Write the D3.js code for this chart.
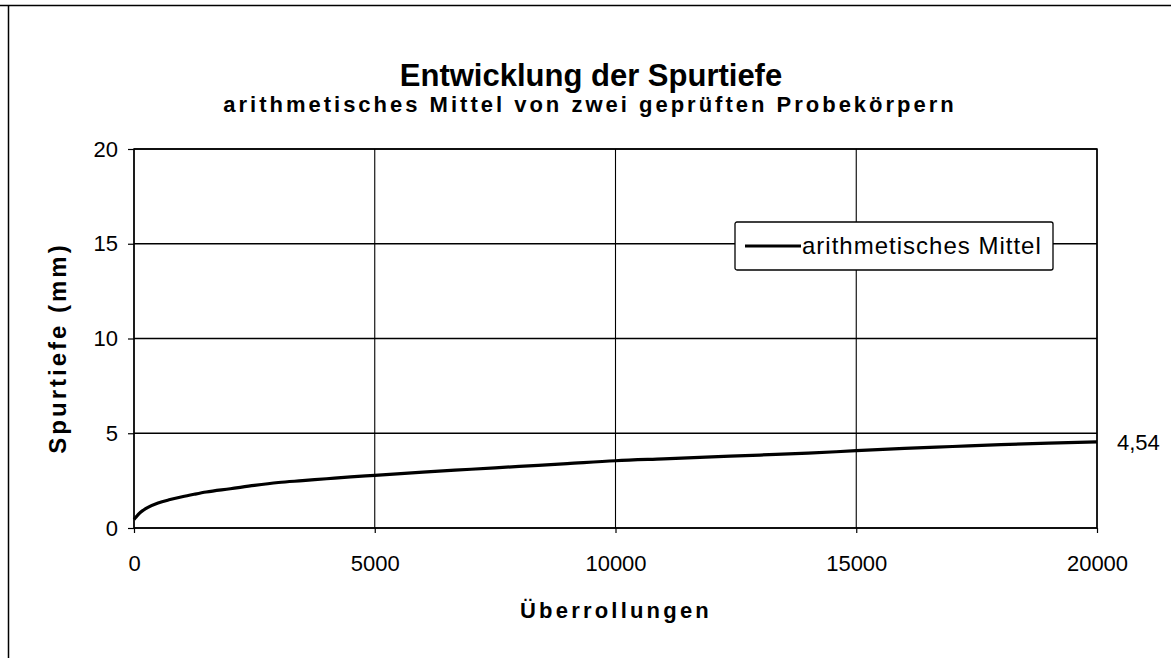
<!DOCTYPE html>
<html>
<head>
<meta charset="utf-8">
<script src="https://cdn.jsdelivr.net/npm/d3@7"></script>
<style>
  body { margin: 0; background: #fff; }
  svg text { font-family: "Liberation Sans", Arial, sans-serif; fill: #000; }
</style>
</head>
<body>
<div id="wrapper"></div>
<script>
// data
const overrolls = [0, 50, 100, 200, 300, 500, 750, 1000, 1250, 1500, 2000, 2500, 3000, 3500, 4000, 4500, 5000,
  6000, 7000, 8000, 9000, 10000, 11000, 12000, 13000, 14000, 15000, 16000, 17000, 18000, 19000, 20000]
const rutDepth = [0.45, 0.6, 0.75, 0.95, 1.1, 1.32, 1.5, 1.65, 1.78, 1.9, 2.07, 2.25, 2.4, 2.5, 2.6, 2.7, 2.78,
  2.95, 3.1, 3.25, 3.4, 3.55, 3.65, 3.75, 3.85, 3.95, 4.08, 4.2, 4.3, 4.4, 4.48, 4.54]
const xTicks = [0, 5000, 10000, 15000, 20000]
const yTicks = [0, 5, 10, 15, 20]
const seriesLabel = "arithmetisches Mittel"
const endLabel = "4,54"

function draw() {
  const dimensions = {
    width: 1171,
    height: 658,
    margin: { top: 149, right: 74, bottom: 130, left: 134 },
  }
  dimensions.boundedWidth = dimensions.width - dimensions.margin.left - dimensions.margin.right
  dimensions.boundedHeight = dimensions.height - dimensions.margin.top - dimensions.margin.bottom

  const svg = d3.select("#wrapper").append("svg")
    .attr("width", dimensions.width)
    .attr("height", dimensions.height)

  // outer frame (top and left edge of the scanned page)
  svg.append("line").attr("x1", 0).attr("x2", dimensions.width).attr("y1", 5.5).attr("y2", 5.5)
    .attr("stroke", "#000").attr("stroke-width", 1.5)
  svg.append("line").attr("x1", 8.5).attr("x2", 8.5).attr("y1", 5).attr("y2", dimensions.height)
    .attr("stroke", "#000").attr("stroke-width", 1.5)

  // titles
  svg.append("text")
    .attr("x", 591).attr("y", 86)
    .attr("text-anchor", "middle")
    .style("font-size", "31px").style("font-weight", "bold")
    .text("Entwicklung der Spurtiefe")
  svg.append("text")
    .attr("x", 590).attr("y", 112)
    .attr("text-anchor", "middle")
    .style("font-size", "22px").style("font-weight", "bold").style("letter-spacing", "3px")
    .text("arithmetisches Mittel von zwei geprüften Probekörpern")

  const bounds = svg.append("g")
    .attr("transform", `translate(${dimensions.margin.left}, ${dimensions.margin.top})`)

  const xScale = d3.scaleLinear().domain([0, 20000]).range([0, dimensions.boundedWidth])
  const yScale = d3.scaleLinear().domain([0, 20]).range([dimensions.boundedHeight, 0])

  // grid
  bounds.append("g").selectAll("line")
    .data(yTicks)
    .join("line")
    .attr("x1", 0).attr("x2", dimensions.boundedWidth)
    .attr("y1", d => yScale(d)).attr("y2", d => yScale(d))
    .attr("stroke", "#000").attr("stroke-width", 1.3)
  bounds.append("g").selectAll("line")
    .data(xTicks)
    .join("line")
    .attr("y1", 0).attr("y2", dimensions.boundedHeight)
    .attr("x1", d => xScale(d)).attr("x2", d => xScale(d))
    .attr("stroke", "#000").attr("stroke-width", 1.1)

  bounds.append("rect")
    .attr("width", dimensions.boundedWidth).attr("height", dimensions.boundedHeight)
    .attr("fill", "none").attr("stroke", "#000").attr("stroke-width", 1.5)

  // axes
  const xAxis = bounds.append("g")
    .attr("transform", `translate(0, ${dimensions.boundedHeight})`)
    .call(d3.axisBottom(xScale).tickValues(xTicks).tickSize(5).tickPadding(22).tickFormat(d3.format("d")))
  const yAxis = bounds.append("g")
    .call(d3.axisLeft(yScale).tickValues(yTicks).tickSize(6).tickPadding(10))
  ;[xAxis, yAxis].forEach(a => {
    a.select(".domain").remove()
    a.selectAll("line").attr("stroke", "#000").attr("stroke-width", 1.2)
    a.selectAll("text").style("font-size", "22px").style("font-family", "'Liberation Sans', Arial, sans-serif")
  })

  // axis titles
  svg.append("text")
    .attr("x", 616).attr("y", 618)
    .attr("text-anchor", "middle")
    .style("font-size", "22px").style("font-weight", "bold").style("letter-spacing", "3.2px")
    .text("Überrollungen")
  svg.append("text")
    .attr("transform", "translate(66, 348) rotate(-90)")
    .attr("text-anchor", "middle")
    .style("font-size", "24px").style("font-weight", "bold").style("letter-spacing", "3px")
    .text("Spurtiefe (mm)")

  // line
  const lineGenerator = d3.line()
    .x((d, i) => xScale(overrolls[i]))
    .y(d => yScale(d))
    .curve(d3.curveMonotoneX)
  bounds.append("path")
    .attr("d", lineGenerator(rutDepth))
    .attr("fill", "none")
    .attr("stroke", "#000")
    .attr("stroke-width", 3.2)
    .attr("stroke-linejoin", "round")

  // end value label
  bounds.append("text")
    .attr("x", xScale(overrolls[overrolls.length - 1]) + 20)
    .attr("y", yScale(rutDepth[rutDepth.length - 1]) + 8)
    .style("font-size", "22px")
    .text(endLabel)

  // legend
  const legend = svg.append("g").attr("transform", "translate(735, 222)")
  legend.append("rect")
    .attr("width", 318).attr("height", 48).attr("rx", 2)
    .attr("fill", "#fff").attr("stroke", "#000").attr("stroke-width", 1.3)
  legend.append("line")
    .attr("x1", 10).attr("x2", 66).attr("y1", 24).attr("y2", 24)
    .attr("stroke", "#000").attr("stroke-width", 3)
  legend.append("text")
    .attr("x", 67).attr("y", 32)
    .style("font-size", "24px").style("letter-spacing", "1px")
    .text(seriesLabel)
}

draw()
</script>
</body>
</html>
